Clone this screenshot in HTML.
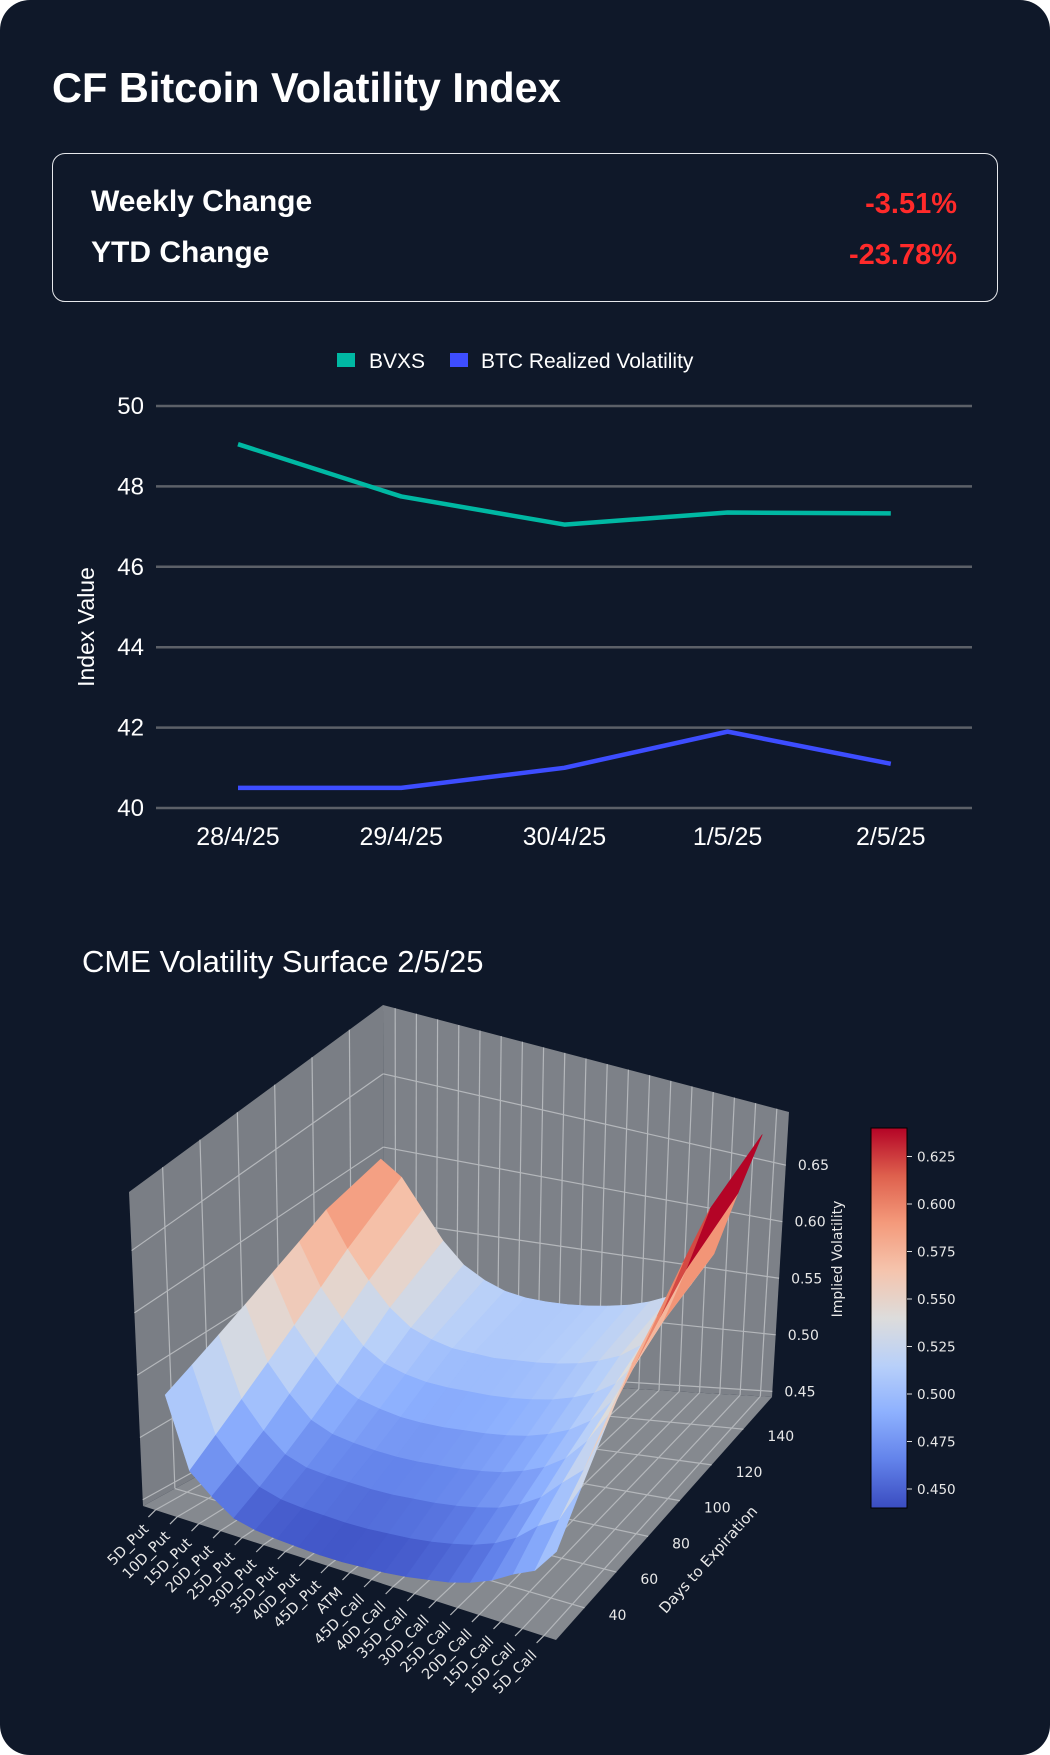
<!DOCTYPE html>
<html><head><meta charset="utf-8">
<style>
html,body{margin:0;padding:0;background:#fff;}
body{width:1050px;height:1755px;position:relative;overflow:hidden;font-family:"Liberation Sans",sans-serif;}
#card{position:absolute;left:0;top:0;width:1050px;height:1755px;background:#0f1829;border-radius:30px;}
#title{position:absolute;left:52px;top:64px;color:#fff;font-size:41.5px;font-weight:bold;margin:0;}
#box{position:absolute;left:52px;top:153px;width:946px;height:149px;border:1.5px solid #e6e8ec;border-radius:13px;box-sizing:border-box;}
.lbl{position:absolute;left:38px;color:#fff;font-size:30px;font-weight:bold;}
.val{position:absolute;right:40px;color:#ff2a2a;font-size:29px;font-weight:bold;}
svg{position:absolute;left:0;top:0;}
</style></head><body>
<div id="card">
<h1 id="title">CF Bitcoin Volatility Index</h1>
<div id="box">
 <div class="lbl" style="top:31px">Weekly Change</div>
 <div class="val" style="top:34px">-3.51%</div>
 <div class="lbl" style="top:82px">YTD Change</div>
 <div class="val" style="top:85px">-23.78%</div>
</div>
<svg id="line" width="1050" height="900"></svg>
<svg id="surf" width="1050" height="1755"></svg>
</div>
<script>
// ---- line chart data ----
const dates = ["28/4/25","29/4/25","30/4/25","1/5/25","2/5/25"];
const bvxs = [49.05, 47.75, 47.05, 47.35, 47.33];
const realized = [40.5, 40.5, 41.0, 41.9, 41.1];
const yTicks = [40,42,44,46,48,50];

// ---- surface data ----
const strikes = ["5D_Put","10D_Put","15D_Put","20D_Put","25D_Put","30D_Put","35D_Put","40D_Put","45D_Put","ATM","45D_Call","40D_Call","35D_Call","30D_Call","25D_Call","20D_Call","15D_Call","10D_Call","5D_Call"];
const days = [30,45,60,75,90,105,120,150];
const ivRow30 = [0.530,0.475,0.460,0.448,0.444,0.442,0.441,0.440,0.440,0.441,0.442,0.444,0.447,0.450,0.455,0.462,0.472,0.480,0.500];
const ivRow45 = [0.540,0.490,0.472,0.459,0.454,0.452,0.451,0.450,0.450,0.451,0.452,0.454,0.457,0.461,0.467,0.476,0.490,0.500,0.530];
const ivRow60 = [0.550,0.505,0.485,0.471,0.465,0.463,0.462,0.461,0.461,0.462,0.463,0.465,0.468,0.472,0.479,0.489,0.505,0.520,0.560];
const ivRow75 = [0.560,0.520,0.500,0.484,0.477,0.474,0.472,0.471,0.471,0.472,0.473,0.475,0.478,0.483,0.490,0.501,0.519,0.545,0.590];
const ivRow90 = [0.570,0.535,0.515,0.498,0.490,0.486,0.483,0.482,0.482,0.483,0.484,0.486,0.489,0.494,0.501,0.512,0.532,0.565,0.610];
const ivRow105 = [0.580,0.550,0.530,0.513,0.503,0.498,0.495,0.494,0.494,0.494,0.495,0.497,0.500,0.505,0.512,0.523,0.545,0.585,0.635];
const ivRow120 = [0.590,0.565,0.545,0.528,0.516,0.510,0.506,0.505,0.504,0.505,0.506,0.508,0.511,0.516,0.523,0.535,0.558,0.605,0.660];
const ivRow150 = [0.600,0.590,0.570,0.550,0.535,0.526,0.520,0.517,0.516,0.516,0.517,0.519,0.522,0.527,0.534,0.547,0.575,0.630,0.685];
const ivRows = [ivRow30,ivRow45,ivRow60,ivRow75,ivRow90,ivRow105,ivRow120,ivRow150];
const zTicks = [0.45,0.50,0.55,0.60,0.65];
const dayTicks = [40,60,80,100,120,140];
const cbTicks = [0.450,0.475,0.500,0.525,0.550,0.575,0.600,0.625];

const NS="http://www.w3.org/2000/svg";
function mk(parent,tag,attrs,text){const e=document.createElementNS(NS,tag);for(const k in attrs)e.setAttribute(k,attrs[k]);if(text!==undefined)e.textContent=text;parent.appendChild(e);return e;}

// ===== line chart =====
(function(){
const s=document.getElementById('line');
const x0=156,x1=972,yTop=406,yBot=808;
const xs=i=>238+i*163.2;
const ys=v=>yBot-(v-40)/10*(yBot-yTop);
yTicks.forEach(t=>{
 const g=mk(s,'line',{x1:x0,x2:x1,y1:ys(t),y2:ys(t),stroke:'#5c6068','stroke-width':2.5});
 
 
 const l=mk(s,'text',{x:144,y:ys(t)+8,fill:'#fff','font-size':24,'text-anchor':'end'},t);
 
 
});
dates.forEach((d,i)=>{
 const l=mk(s,'text',{x:xs(i),y:845,fill:'#fff','font-size':25,'text-anchor':'middle'},d);
 
 
});
const yt=mk(s,'text',{x:0,y:0,fill:'#fff','font-size':23,'text-anchor':'middle',transform:'translate(94,627) rotate(-90)'},'Index Value');


function series(vals,color,name){
 const p=mk(s,'polyline',{points:vals.map((v,i)=>xs(i)+','+ys(v)).join(' '),fill:'none',stroke:color,'stroke-width':4.5,'stroke-linejoin':'round'});
 
 
}
series(bvxs,'#00b8a3','bvxs-line');
series(realized,'#3d4dff','btc-realized-volatility-line');
const r1=mk(s,'rect',{x:337,y:353,width:18,height:14,fill:'#00b8a3'});


const t1=mk(s,'text',{x:369,y:368,fill:'#fff','font-size':21},'BVXS');


const r2=mk(s,'rect',{x:450,y:353,width:18,height:14,fill:'#3d4dff'});


const t2=mk(s,'text',{x:481,y:368,fill:'#fff','font-size':21},'BTC Realized Volatility');


})();

// ===== surface =====
(function(){
const s=document.getElementById('surf');
const tt=mk(s,'text',{x:82,y:972,fill:'#fff','font-size':31},'CME Volatility Surface 2/5/25');


const K={
 '000':[143,1506],'100':[556,1640],'110':[772,1397],'010':[384,1374],
 '001':[129,1192],'101':[556,1315],'111':[789,1112],'011':[383,1005]};
function P(u,v,w){
 let x=0,y=0;
 for(const a of [0,1])for(const b of [0,1])for(const c of [0,1]){
  const f=(a?u:1-u)*(b?v:1-v)*(c?w:1-w);const k=K[''+a+b+c];x+=f*k[0];y+=f*k[1];}
 return [x,y];
}
const zmin=0.445,zmax=0.697,dmin=22,dmax=158;
const us=i=>0.03+i/(strikes.length-1)*0.94;
const vs=d=>(d-dmin)/(dmax-dmin);
const ws=z=>(z-zmin)/(zmax-zmin);
const pts=a=>a.map(p=>p[0].toFixed(1)+','+p[1].toFixed(1)).join(' ');
const floor=mk(s,'polygon',{points:pts([P(0,0,0),P(1,0,0),P(1,1,0),P(0,1,0)]),fill:'#85898f'});


const lw=mk(s,'polygon',{points:pts([P(0,0,0),P(0,1,0),P(0,1,1),P(0,0,1)]),fill:'#7a7e85'});


const bw=mk(s,'polygon',{points:pts([P(0,1,0),P(1,1,0),P(1,1,1),P(0,1,1)]),fill:'#7d8188'});


function gl(a,b){const l=mk(s,'line',{x1:a[0],y1:a[1],x2:b[0],y2:b[1],stroke:'#b4b7bb','stroke-width':1.2});
 
 }
strikes.forEach((n,i)=>{gl(P(us(i),0,0),P(us(i),1,0));gl(P(us(i),1,0),P(us(i),1,1));});
dayTicks.forEach(d=>{gl(P(0,vs(d),0),P(1,vs(d),0));gl(P(0,vs(d),0),P(0,vs(d),1));});
zTicks.forEach(z=>{gl(P(0,0,ws(z)),P(0,1,ws(z)));gl(P(0,1,ws(z)),P(1,1,ws(z)));});
const cm=[[58,76,192],[98,130,234],[141,176,254],[184,208,249],[221,220,219],[245,196,173],[244,154,123],[222,96,77],[180,4,38]];
function col(t){t=Math.max(0,Math.min(1,t))*8;const i=Math.min(7,Math.floor(t)),f=t-i;const c=cm[i].map((v,k)=>Math.round(v+(cm[i+1][k]-v)*f));return 'rgb('+c.join(',')+')';}
const vmin=0.44,vmax=0.64;
const quads=[];
for(let j=0;j<days.length-1;j++)for(let i=0;i<strikes.length-1;i++){
 const z=[ivRows[j][i],ivRows[j][i+1],ivRows[j+1][i+1],ivRows[j+1][i]];
 const c=[P(us(i),vs(days[j]),ws(z[0])),P(us(i+1),vs(days[j]),ws(z[1])),P(us(i+1),vs(days[j+1]),ws(z[2])),P(us(i),vs(days[j+1]),ws(z[3]))];
 const um=(us(i)+us(i+1))/2,vm=(vs(days[j])+vs(days[j+1]))/2;
 quads.push({c,z:(z[0]+z[1]+z[2]+z[3])/4,depth:um*134-vm*243});
}
quads.sort((a,b)=>a.depth-b.depth);
quads.forEach(q=>{
 const cc=col((q.z-vmin)/(vmax-vmin));
 const p=mk(s,'polygon',{points:pts(q.c),fill:cc,stroke:cc,'stroke-width':0.6});
 
 
});
strikes.forEach((n,i)=>{
 const p=P(us(i),0,0);
 gl(p,[p[0]-7,p[1]+7]);
 const t=mk(s,'text',{x:0,y:0,fill:'#e8e8e8','font-size':14.5,'font-family':'DejaVu Sans, sans-serif','text-anchor':'end',transform:`translate(${p[0]-6},${p[1]+20}) rotate(-45)`},n);
 
 
});
dayTicks.forEach(d=>{
 const p=P(1,vs(d),0);
 const t=mk(s,'text',{x:p[0]+24,y:p[1]+12,fill:'#e8e8e8','font-size':14,'font-family':'DejaVu Sans, sans-serif'},d);
 
 
});
const dt=mk(s,'text',{x:0,y:0,fill:'#e8e8e8','font-size':15,'font-family':'DejaVu Sans, sans-serif','text-anchor':'middle',transform:'translate(712,1563) rotate(-48)'},'Days to Expiration');


zTicks.forEach(z=>{
 const p=P(1,1,ws(z));
 const t=mk(s,'text',{x:p[0]+12,y:p[1]+5,fill:'#e8e8e8','font-size':14,'font-family':'DejaVu Sans, sans-serif'},z.toFixed(2));
 
 
});
const zt=mk(s,'text',{x:0,y:0,fill:'#e8e8e8','font-size':14,'font-family':'DejaVu Sans, sans-serif','text-anchor':'middle',transform:'translate(842,1259) rotate(-90)'},'Implied Volatility');


const defs=mk(s,'defs',{});
const lg=mk(defs,'linearGradient',{id:'cbg',x1:0,y1:1,x2:0,y2:0});
for(let k=0;k<=8;k++)mk(lg,'stop',{offset:k/8,'stop-color':col(k/8)});
const cbTop=1128,cbBot=1508;
const cb=mk(s,'rect',{x:871,y:cbTop,width:36,height:cbBot-cbTop,fill:'url(#cbg)',stroke:'#000','stroke-width':1});


const cy=v=>cbBot-(v-vmin)/(vmax-vmin)*(cbBot-cbTop);
cbTicks.forEach(v=>{
 mk(s,'line',{x1:907,x2:912,y1:cy(v),y2:cy(v),stroke:'#ddd','stroke-width':1});
 const t=mk(s,'text',{x:917,y:cy(v)+5,fill:'#e8e8e8','font-size':13.5,'font-family':'DejaVu Sans, sans-serif'},v.toFixed(3));
 
 
});
})();
</script>
</body></html>
